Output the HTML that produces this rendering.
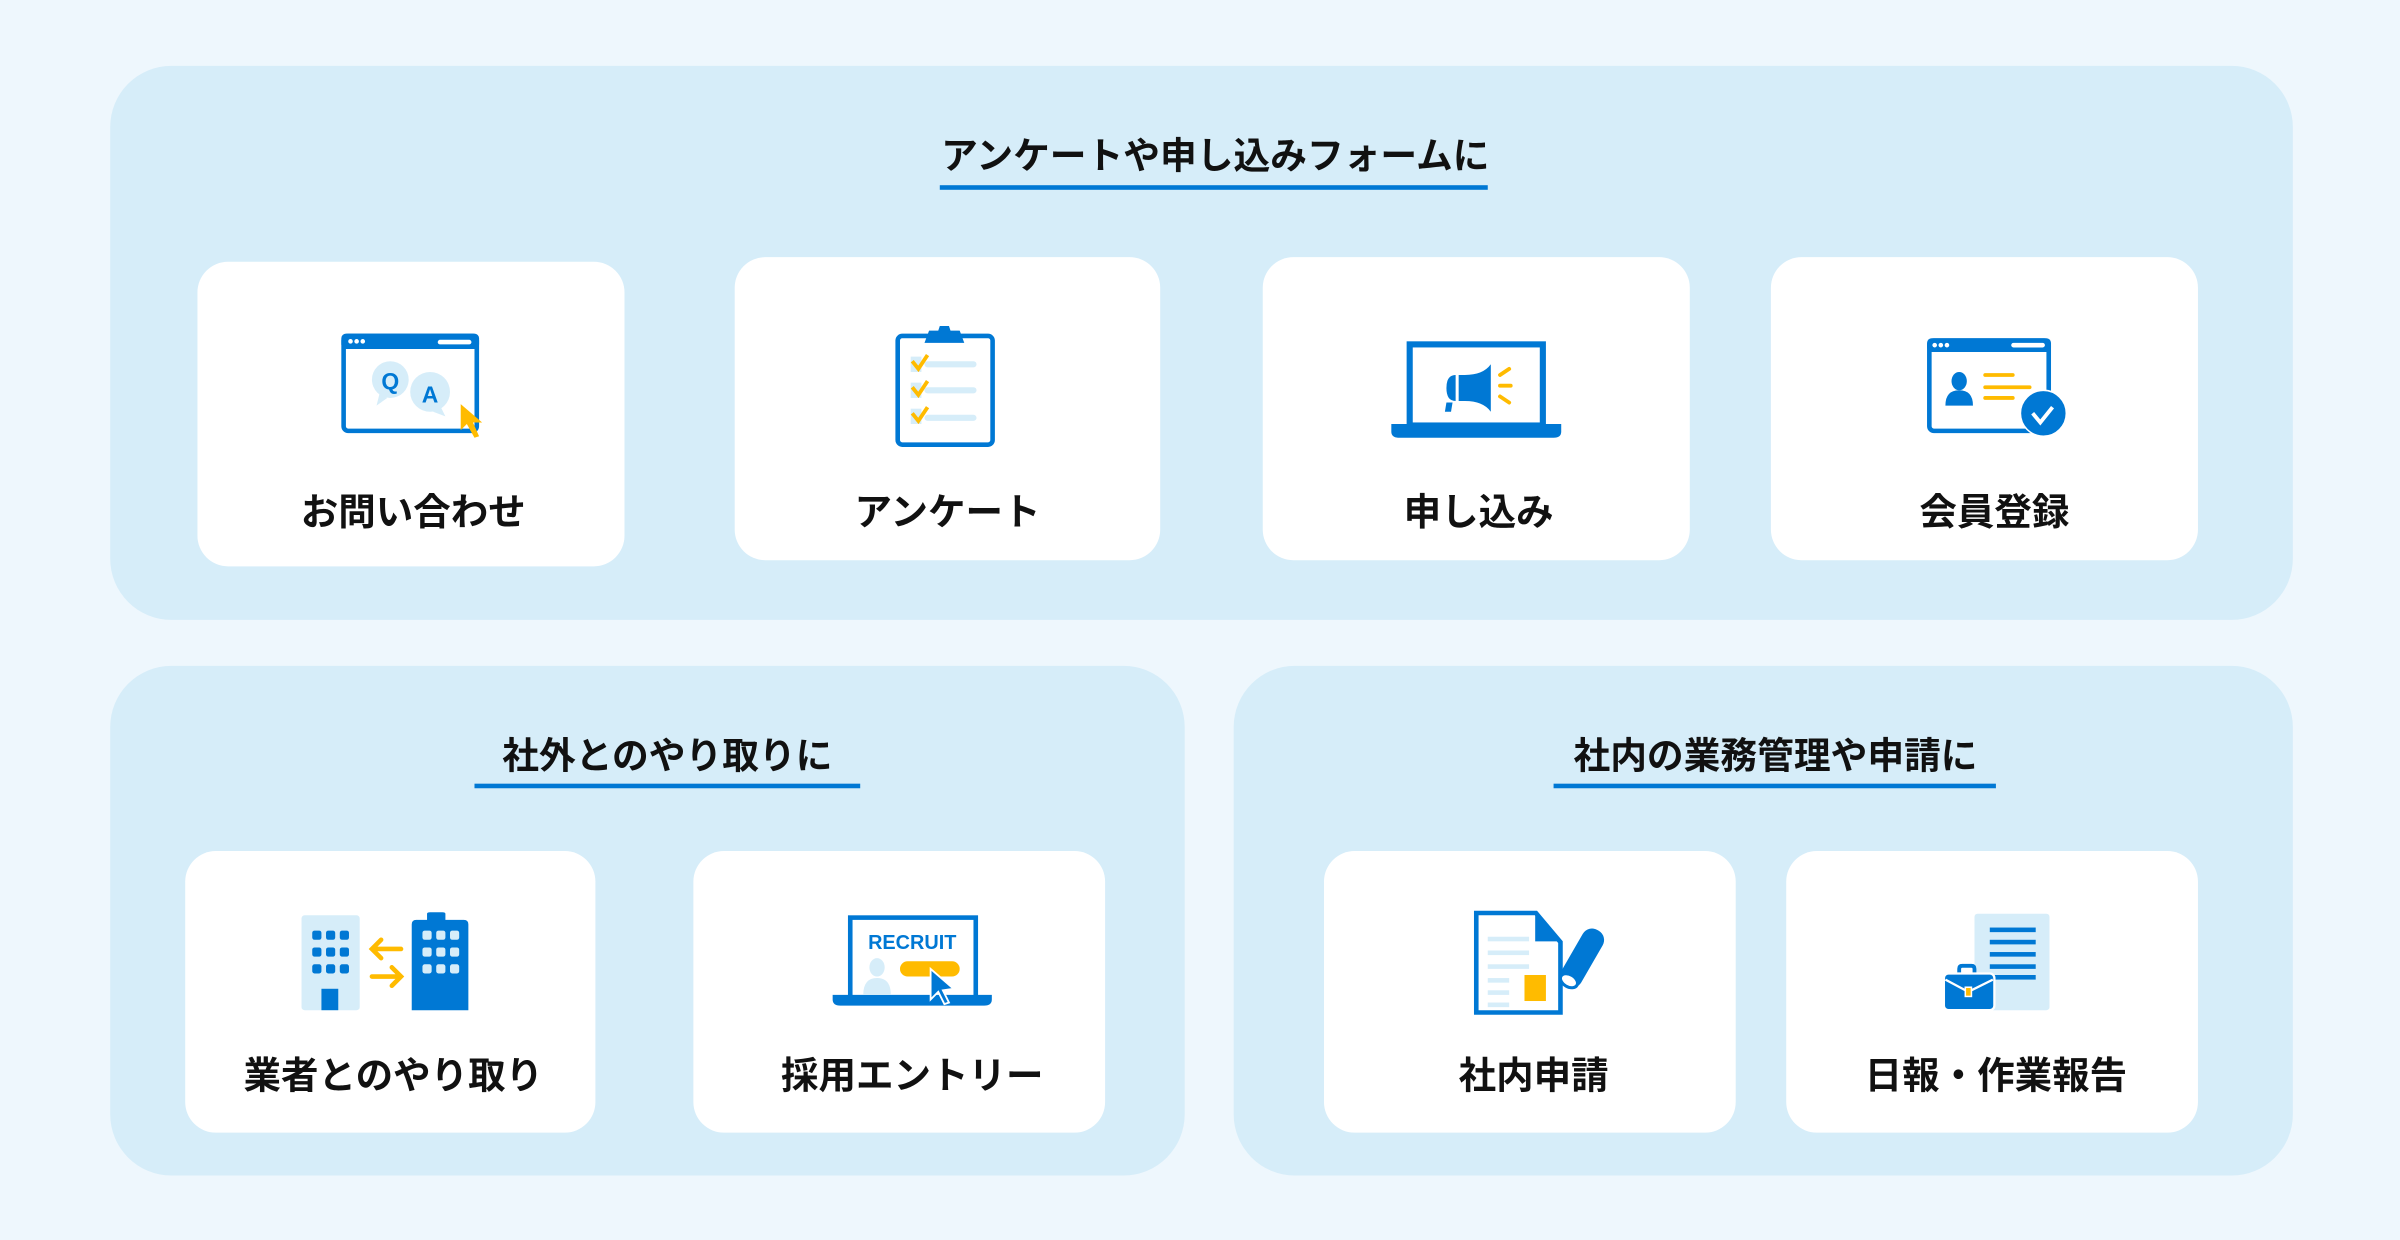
<!DOCTYPE html>
<html><head><meta charset="utf-8"><style>
html,body{margin:0;padding:0;width:2400px;height:1240px;overflow:hidden;background:#eef7fd}
#w{position:absolute;left:0;top:0;width:1568px;height:810px;transform:scale(1.53061);transform-origin:0 0;font-family:"Liberation Sans","Noto Sans CJK JP",sans-serif;font-weight:bold;color:#111}
.p{position:absolute;background:#d6edf9;border-radius:40px}
.c{position:absolute;background:#fff;border-radius:20px}
.t{position:absolute;text-align:center;font-size:24px;line-height:30px;white-space:nowrap;transform:translateX(-50%)}
.l{position:absolute;text-align:center;font-size:24.5px;line-height:30px;white-space:nowrap;transform:translateX(-50%)}
svg{position:absolute;left:0;top:0}
</style></head><body><div id="w">
<div class="p" style="left:72px;top:43px;width:1426px;height:362px"></div>
<div class="p" style="left:72px;top:435px;width:702px;height:333px"></div>
<div class="p" style="left:806px;top:435px;width:692px;height:333px"></div>
<div class="c" style="left:129px;top:171px;width:279px;height:199px"></div>
<div class="c" style="left:480px;top:168px;width:278px;height:198px"></div>
<div class="c" style="left:825px;top:168px;width:279px;height:198px"></div>
<div class="c" style="left:1157px;top:168px;width:279px;height:198px"></div>
<div class="c" style="left:121px;top:556px;width:268px;height:184px"></div>
<div class="c" style="left:453px;top:556px;width:269px;height:184px"></div>
<div class="c" style="left:865px;top:556px;width:269px;height:184px"></div>
<div class="c" style="left:1167px;top:556px;width:269px;height:184px"></div>
<div class="t" style="left:794px;top:88px">アンケートや申し込みフォームに</div>
<div class="t" style="left:436px;top:480px">社外とのやり取りに</div>
<div class="t" style="left:1160px;top:480px">社内の業務管理や申請に</div>
<div class="l" style="left:270px;top:321px">お問い合わせ</div>
<div class="l" style="left:619px;top:321px">アンケート</div>
<div class="l" style="left:966px;top:321px">申し込み</div>
<div class="l" style="left:1303px;top:321px">会員登録</div>
<div class="l" style="left:257px;top:689px">業者とのやり取り</div>
<div class="l" style="left:596px;top:689px">採用エントリー</div>
<div class="l" style="left:1002px;top:689px">社内申請</div>
<div class="l" style="left:1304px;top:689px">日報・作業報告</div>
<svg width="1568" height="810" viewBox="0 0 1568 810">
<g fill="#0078d4">
<rect x="614" y="121" width="358" height="3"/>
<rect x="310" y="512" width="252" height="3"/>
<rect x="1015" y="512" width="289" height="3"/>
</g>
<rect x="224.5" y="219.5" width="87" height="62" rx="3" fill="#fff" stroke="#0078d4" stroke-width="3"/>
<rect x="223" y="218" width="90" height="10" rx="3" fill="#0078d4"/>
<g fill="#fff"><circle cx="229" cy="223" r="1.5"/><circle cx="233" cy="223" r="1.5"/><circle cx="237" cy="223" r="1.5"/><rect x="286" y="222" width="22" height="3" rx="1.5"/></g>
<circle cx="255" cy="248" r="12" fill="#d6edf9"/><path d="M248 257l-2 8 7-5z" fill="#d6edf9"/>
<circle cx="281" cy="256" r="13" fill="#d6edf9"/><path d="M288 266l3 6-8-3z" fill="#d6edf9"/>
<text x="255" y="254" font-size="15" font-family="Liberation Sans" font-weight="bold" fill="#0078d4" text-anchor="middle">Q</text>
<text x="281" y="263" font-size="15" font-family="Liberation Sans" font-weight="bold" fill="#0078d4" text-anchor="middle">A</text>
<path d="M301 264l0 17 4-4 5 9 3-1-4-9 6 0z" fill="#ffbb00"/>
<rect x="586.5" y="219.5" width="62" height="71" rx="3" fill="#fff" stroke="#0078d4" stroke-width="3"/>
<path d="M604 224l3-8h6l1-3h6l1 3h6l3 8z" fill="#0078d4"/>
<g fill="#d6edf9"><rect x="595" y="233" width="7" height="10"/><rect x="595" y="250" width="7" height="10"/><rect x="595" y="267" width="7" height="10"/><rect x="604" y="236" width="34" height="4" rx="2"/><rect x="604" y="253" width="34" height="4" rx="2"/><rect x="604" y="271" width="34" height="4" rx="2"/></g>
<g fill="none" stroke="#ffbb00" stroke-width="2.5"><path d="M596 236l4 5 6-9"/><path d="M596 253l4 5 6-9"/><path d="M596 270l4 5 6-9"/></g>
<rect x="921" y="225" width="87" height="53" fill="#fff" stroke="#0078d4" stroke-width="4"/>
<path d="M909 277h111v5q0 4-5 4h-101q-5 0-5-4z" fill="#0078d4"/>
<path d="M953 245h4q12 0 17-7v31q-5-7-17-7h-4z" fill="#0078d4"/>
<path d="M951 245v17q-6 0-6-8.5t6-8.5z" fill="#0078d4"/><path d="M945 263h4l-1 6h-4z" fill="#0078d4"/>
<g stroke="#ffbb00" stroke-width="2.5" stroke-linecap="round"><path d="M980 245l6-4"/><path d="M980 252h7"/><path d="M980 259l6 4"/></g>
<rect x="1260.5" y="222.5" width="78" height="59" rx="3" fill="#fff" stroke="#0078d4" stroke-width="3"/>
<rect x="1259" y="221" width="81" height="9" rx="3" fill="#0078d4"/>
<g fill="#fff"><circle cx="1264" cy="225.5" r="1.5"/><circle cx="1268" cy="225.5" r="1.5"/><circle cx="1272" cy="225.5" r="1.5"/><rect x="1314" y="224" width="22" height="3" rx="1.5"/></g>
<ellipse cx="1280" cy="249" rx="5" ry="6" fill="#0078d4"/><path d="M1271 265q0-10 9-10t9 10z" fill="#0078d4"/>
<g stroke="#ffbb00" stroke-width="2.5" stroke-linecap="round"><path d="M1297 245h18"/><path d="M1297 253h29"/><path d="M1297 260h18"/></g>
<circle cx="1335" cy="270" r="15" fill="#0078d4" stroke="#fff" stroke-width="1"/><path d="M1328 270l5 6 8-10" fill="none" stroke="#fff" stroke-width="2.5"/>
<rect x="197" y="598" width="38" height="62" rx="2" fill="#d6edf9"/>
<rect x="210" y="646" width="11" height="14" fill="#0078d4"/>
<path d="M269 604q0-3 3-3h7v-4q0-1 2-1h8q2 0 2 1v4h12q3 0 3 3v56h-37z" fill="#0078d4"/>
<g fill="#0078d4"><rect x="204" y="608" width="6" height="6" rx="1.5"/><rect x="213" y="608" width="6" height="6" rx="1.5"/><rect x="222" y="608" width="6" height="6" rx="1.5"/><rect x="204" y="619" width="6" height="6" rx="1.5"/><rect x="213" y="619" width="6" height="6" rx="1.5"/><rect x="222" y="619" width="6" height="6" rx="1.5"/><rect x="204" y="630" width="6" height="6" rx="1.5"/><rect x="213" y="630" width="6" height="6" rx="1.5"/><rect x="222" y="630" width="6" height="6" rx="1.5"/></g>
<g fill="#d6edf9"><rect x="276" y="608" width="6" height="6" rx="1.5"/><rect x="285" y="608" width="6" height="6" rx="1.5"/><rect x="294" y="608" width="6" height="6" rx="1.5"/><rect x="276" y="619" width="6" height="6" rx="1.5"/><rect x="285" y="619" width="6" height="6" rx="1.5"/><rect x="294" y="619" width="6" height="6" rx="1.5"/><rect x="276" y="630" width="6" height="6" rx="1.5"/><rect x="285" y="630" width="6" height="6" rx="1.5"/><rect x="294" y="630" width="6" height="6" rx="1.5"/></g>
<g fill="none" stroke="#ffbb00" stroke-width="3" stroke-linecap="round"><path d="M262 620h-19M249 614l-6 6 6 6"/><path d="M243 638h19M256 632l6 6-6 6"/></g>
<rect x="555.5" y="599.5" width="82" height="53" fill="#fff" stroke="#0078d4" stroke-width="3"/>
<path d="M544 650h104v3q0 4-5 4h-94q-5 0-5-4z" fill="#0078d4"/>
<text x="596" y="620" font-size="13" font-family="Liberation Sans" font-weight="bold" fill="#0078d4" text-anchor="middle">RECRUIT</text>
<ellipse cx="573" cy="632" rx="5" ry="6" fill="#d6edf9"/><path d="M564 650q0-11 9-11t9 11z" fill="#d6edf9"/>
<rect x="588" y="628" width="39" height="10" rx="5" fill="#ffbb00"/>
<path d="M608 633l0 20 5-5 4 8 3-1-4-8 7-1z" fill="#0078d4" stroke="#fff" stroke-width="1.2"/>
<path d="M964.5 596.5h39l16 19v46h-55z" fill="#fff" stroke="#0078d4" stroke-width="3"/>
<path d="M1003 596l17 19h-17z" fill="#0078d4"/>
<g fill="#d6edf9"><rect x="972" y="612" width="27" height="3"/><rect x="972" y="621" width="27" height="3"/><rect x="972" y="630" width="27" height="3"/><rect x="972" y="639" width="14" height="3"/><rect x="972" y="647" width="14" height="3"/><rect x="972" y="655" width="14" height="3"/></g>
<rect x="996" y="637" width="14" height="17" fill="#ffbb00"/>
<g transform="rotate(30 1033 628)"><rect x="1025" y="605" width="15" height="42" rx="7" fill="#0078d4"/><ellipse cx="1032.5" cy="643" rx="6" ry="4" fill="#fff" stroke="#0078d4" stroke-width="2"/></g>
<rect x="1290" y="597" width="49" height="63" rx="2" fill="#d6edf9"/>
<g fill="#0078d4"><rect x="1300" y="606" width="30" height="3"/><rect x="1300" y="614" width="30" height="3"/><rect x="1300" y="622" width="30" height="3"/><rect x="1300" y="630" width="30" height="3"/><rect x="1300" y="637" width="30" height="3"/></g>
<path d="M1280 637v-4q0-2 2-2h6q2 0 2 2v4" fill="none" stroke="#0078d4" stroke-width="2.5"/>
<rect x="1270" y="636" width="33" height="24" rx="3" fill="#0078d4" stroke="#fff" stroke-width="1.5"/>
<path d="M1271 640l15 8 16-8" fill="none" stroke="#fff" stroke-width="1.5"/>
<rect x="1284" y="645" width="4" height="6" fill="#ffbb00" stroke="#fff" stroke-width="1"/>
</svg>
</div></body></html>
